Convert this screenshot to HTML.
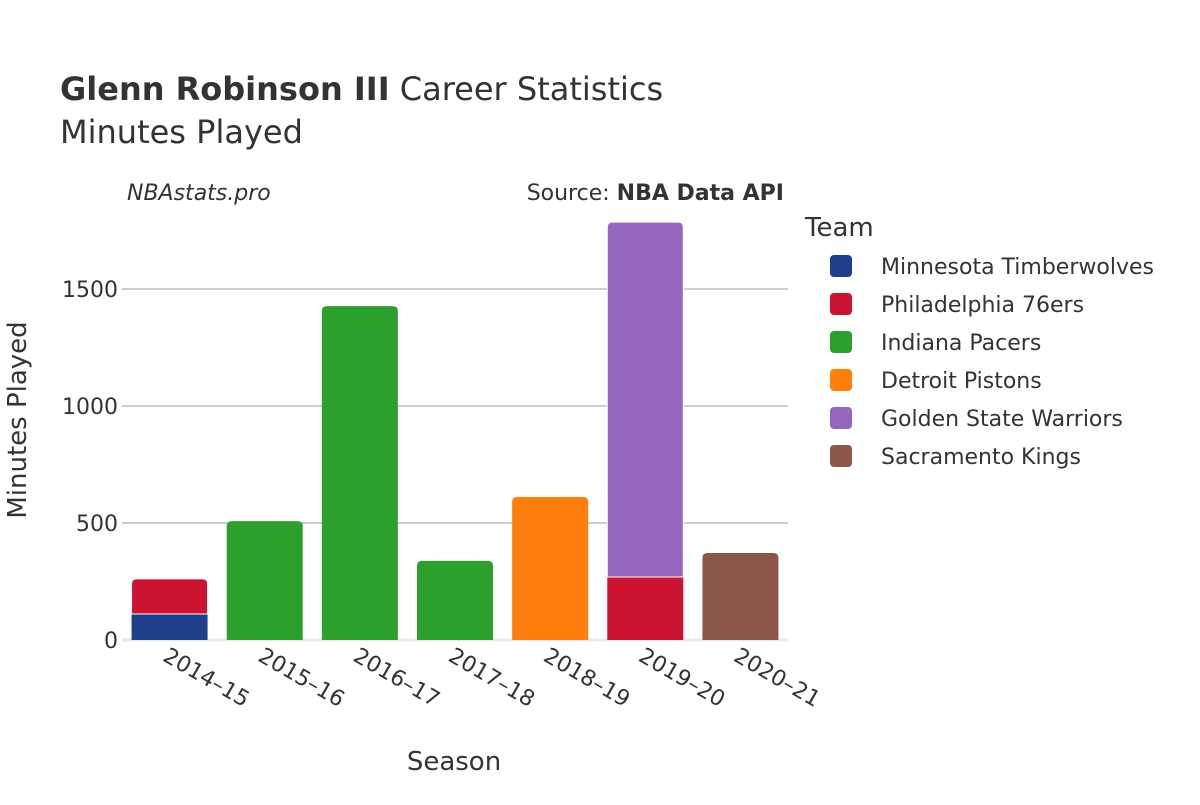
<!DOCTYPE html>
<html><head><meta charset="utf-8"><style>
body{margin:0;background:#fff;}
svg text{font-family:"DejaVu Sans","Liberation Sans",sans-serif;fill:#333;}
</style></head><body>
<svg id="chart" width="1200" height="800" xmlns="http://www.w3.org/2000/svg">
<text x="60" y="100" font-size="32"><tspan font-weight="bold">Glenn Robinson III</tspan> Career Statistics</text>
<text x="60" y="143" font-size="32">Minutes Played</text>
<text x="127" y="200" font-size="22" font-style="italic">NBAstats.pro</text>
<text x="784" y="200" font-size="22" text-anchor="end">Source: <tspan font-weight="bold">NBA Data API</tspan></text>
<g id="grid"></g>
<g id="bars"></g>
<g id="xticks"></g>
<g id="yticks"></g>
<text x="454" y="770" font-size="26" text-anchor="middle">Season</text>
<text transform="translate(26,420) rotate(-90)" font-size="26" text-anchor="middle">Minutes Played</text>
<text x="805" y="236" font-size="26">Team</text>
<g id="legend"></g>
</svg>
<script>
const seasons=["2014–15","2015–16","2016–17","2017–18","2018–19","2019–20","2020–21"];
const teams=["Minnesota Timberwolves","Philadelphia 76ers","Indiana Pacers","Detroit Pistons","Golden State Warriors","Sacramento Kings"];
const colors=["#1f4089","#cb1230","#2ca02c","#ff7f0e","#9467bd","#8c564b"];
const minnesota=[111,0,0,0,0,0,0];
const philadelphia=[150,0,0,0,0,269,0];
const indiana=[0,508,1427,338,0,0,0];
const detroit=[0,0,0,0,611,0,0];
const golden=[0,0,0,0,0,1517,0];
const sacramento=[0,0,0,0,0,0,372];
const series=[minnesota,philadelphia,indiana,detroit,golden,sacramento];
const yTicks=[0,500,1000,1500];
const NS="http://www.w3.org/2000/svg";
const x0=122,x1=788,y0=640,pxPer=0.234;
const band=(x1-x0)/seasons.length,bw=76;
const Y=v=>y0-v*pxPer;
const X=i=>x0+band*(i+0.5);
function mk(t,a,p){const e=document.createElementNS(NS,t);for(const k in a)e.setAttribute(k,a[k]);p.appendChild(e);return e;}
const grid=document.getElementById('grid'),yt=document.getElementById('yticks');
yTicks.forEach(v=>{
 const l=mk('line',{x1:x0,x2:x1,y1:Y(v),y2:Y(v),stroke:v===0?'#e8e8e8':'#b0b0b0','stroke-width':v===0?3:1.3},grid);
 
 
 const t=mk('text',{x:x0-4,y:Y(v)+8,'font-size':22,'text-anchor':'end'},yt);t.textContent=v;
 
 
});
const bars=document.getElementById('bars');
seasons.forEach((s,i)=>{
 let acc=0;const segs=[];
 series.forEach((sr,k)=>{if(sr[i]>0){segs.push([acc,acc+sr[i],k]);acc+=sr[i];}});
 segs.forEach((sg,j)=>{
  const top=j===segs.length-1,yT=Y(sg[1]),yB=Y(sg[0]),xl=X(i)-bw/2,r=top?5:0;
  const d=`M${xl},${yB}V${yT+r}Q${xl},${yT} ${xl+r},${yT}H${xl+bw-r}Q${xl+bw},${yT} ${xl+bw},${yT+r}V${yB}Z`;
  const p=mk('path',{d:d,fill:colors[sg[2]],stroke:'#fff','stroke-width':j>0?1:0},bars);
  
  
 });
 const t=mk('text',{x:0,y:0,'font-size':22,transform:`translate(${X(i)-8},${660}) rotate(30)`},document.getElementById('xticks'));
 t.textContent=s;
 
 
});
const lg=document.getElementById('legend');
teams.forEach((tm,k)=>{
 const y=266+k*38;
 const g=mk('g',{},lg);
 
 
 mk('rect',{x:830,y:y-11,width:22,height:22,rx:4,fill:colors[k]},g);
 const t=mk('text',{x:881,y:y+8,'font-size':22},g);t.textContent=tm;
});
</script>
</body></html>
